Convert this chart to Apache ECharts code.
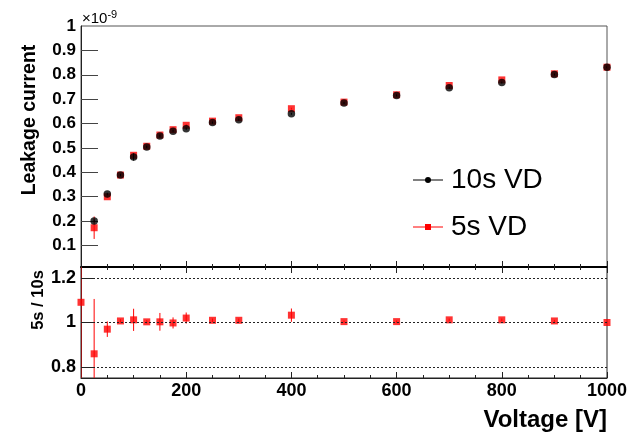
<!DOCTYPE html>
<html><head><meta charset="utf-8">
<script src="https://cdn.jsdelivr.net/npm/echarts@6/dist/echarts.min.js"></script>
<style>html,body{margin:0;padding:0;background:#fff}#c{width:642px;height:432px}</style>
</head><body><div id="c"></div>
<script>
// ---- data ----
const voltTop = [25,50,75,100,125,150,175,200,250,300,400,500,600,700,800,900,1000];
const leak10 = [0.201,0.311,0.389,0.463,0.504,0.549,0.569,0.579,0.604,0.616,0.640,0.684,0.715,0.747,0.768,0.801,0.831];
const leak10Err = [0.006,0.005,0.005,0.015,0.005,0.006,0.005,0.005,0.004,0.004,0.004,0.004,0.004,0.004,0.004,0.004,0.004];
const leak5 = [0.173,0.300,0.389,0.470,0.507,0.553,0.575,0.593,0.610,0.624,0.661,0.688,0.718,0.756,0.779,0.804,0.831];
const leak5Err = [0.046,0.005,0.005,0.008,0.005,0.006,0.005,0.005,0.004,0.004,0.004,0.004,0.004,0.004,0.004,0.004,0.004];
const voltRatio = [0,25,50,75,100,125,150,175,200,250,300,400,500,600,700,800,900,1000];
const ratio = [1.091,0.859,0.970,1.007,1.012,1.003,1.003,0.998,1.020,1.010,1.010,1.033,1.004,1.004,1.012,1.012,1.007,1.000];
const ratioErr = [0.6,0.247,0.035,0.008,0.05,0.008,0.04,0.025,0.025,0.008,0.008,0.03,0.005,0.005,0.006,0.006,0.005,0.005];
const xTicks = [0,200,400,600,800,1000];
const yTopTicks = [0.1,0.2,0.3,0.4,0.5,0.6,0.7,0.8,0.9];
const yTopLabels = [0.1,0.2,0.3,0.4,0.5,0.6,0.7,0.8,0.9,1];
const yRatioTicks = [0.8,1,1.2];
const seriesNames = ['10s VD','5s VD'];
const yTitleTop = 'Leakage current';
const yTitleBottom = '5s / 10s';
const xTitle = 'Voltage [V]';

const FONT = "'Liberation Sans', Arial, Helvetica, sans-serif";
const pts = (xs, ys) => xs.map((x, i) => [x, ys[i]]);
const errs = (xs, ys, es) => xs.map((x, i) => [x, ys[i] - es[i], ys[i] + es[i]]);

function errRender(color) {
  return function (params, api) {
    const p1 = api.coord([api.value(0), api.value(1)]);
    const p2 = api.coord([api.value(0), api.value(2)]);
    return { type: 'line', shape: { x1: p1[0], y1: p1[1], x2: p2[0], y2: p2[1] },
      style: { stroke: color, lineWidth: 1 } };
  };
}

const chart = echarts.init(document.getElementById('c'), null, { renderer: 'canvas' });
const axisLine = { show: true, lineStyle: { color: '#222', width: 1 } };
chart.setOption({
  animation: false,
  textStyle: { fontFamily: FONT },
  grid: [
    { left: 81, right: 35, top: 26, height: 241, show: true, borderColor: '#555', borderWidth: 1 },
    { left: 81, right: 35, top: 267, height: 111, show: true, borderColor: '#222', borderWidth: 1 }
  ],
  xAxis: [
    { gridIndex: 0, type: 'value', min: 0, max: 1000, interval: 200, position: 'bottom',
      axisLine, axisLabel: { show: false }, splitLine: { show: false },
      axisTick: { inside: true, length: 6, lineStyle: { color: '#222' } },
      minorTick: { show: true, splitNumber: 4, length: 3, lineStyle: { color: '#222' } } },
    { gridIndex: 1, type: 'value', min: 0, max: 1000, interval: 200, position: 'bottom',
      axisLine, splitLine: { show: false },
      axisLabel: { show: true, margin: 4, fontSize: 18, fontWeight: 'bold', color: '#000', fontFamily: FONT,
        customValues: xTicks, formatter: v => String(Math.round(v)) },
      axisTick: { inside: true, length: 6, lineStyle: { color: '#222' } },
      minorTick: { show: true, splitNumber: 4, length: 3, lineStyle: { color: '#222' } },
      name: xTitle, nameLocation: 'end', nameGap: 0,
      nameTextStyle: { fontSize: 24, fontWeight: 'bold', color: '#000', fontFamily: FONT,
        align: 'right', verticalAlign: 'top', padding: [30, 0, 0, 0] } },
    { gridIndex: 1, type: 'value', min: 0, max: 1000, interval: 200, position: 'top',
      axisLine: { show: true, lineStyle: { color: '#000', width: 2 } }, axisLabel: { show: false }, splitLine: { show: false },
      axisTick: { inside: true, length: 6, lineStyle: { color: '#222' } },
      minorTick: { show: true, splitNumber: 4, length: 3, lineStyle: { color: '#222' } } }
  ],
  yAxis: [
    { gridIndex: 0, type: 'value', min: 0.012, max: 1.0, axisLine, splitLine: { show: false },
      axisTick: { inside: true, length: 17, customValues: yTopTicks, lineStyle: { color: '#444' } },
      axisLabel: { customValues: yTopLabels, margin: 5, fontSize: 17, fontWeight: 'bold', color: '#000', fontFamily: FONT,
        formatter: v => (Math.abs(v - 1) < 1e-9 ? '1' : v.toFixed(1)) } },
    { gridIndex: 1, type: 'value', min: 0.75, max: 1.25, axisLine, splitLine: { show: false },
      axisTick: { inside: true, length: 12, customValues: yRatioTicks, lineStyle: { color: '#222' } },
      axisLabel: { customValues: yRatioTicks, margin: 5, fontSize: 18, fontWeight: 'bold', color: '#000', fontFamily: FONT,
        formatter: v => (Math.abs(v - 1) < 1e-9 ? '1' : v.toFixed(1)) } }
  ],
  series: [
    { type: 'custom', xAxisIndex: 1, yAxisIndex: 1, clip: true, renderItem: errRender('#ff0000'),
      data: errs(voltRatio, ratio, ratioErr), z: 2,
      markLine: { silent: true, symbol: 'none', label: { show: false },
        lineStyle: { type: [2, 2], color: '#222', width: 1 },
        data: yRatioTicks.map(v => ({ yAxis: v })) } },
    { type: 'scatter', xAxisIndex: 1, yAxisIndex: 1, symbol: 'rect', symbolSize: 7,
      itemStyle: { color: '#ff0000' }, data: pts(voltRatio, ratio), z: 3 },
    { type: 'custom', xAxisIndex: 0, yAxisIndex: 0, clip: true, renderItem: errRender('#ff0000'),
      data: errs(voltTop, leak5, leak5Err), z: 2 },
    { type: 'scatter', name: seriesNames[1], xAxisIndex: 0, yAxisIndex: 0, symbol: 'rect', symbolSize: 7,
      itemStyle: { color: '#ff0000' }, data: pts(voltTop, leak5), z: 3 },
    { type: 'custom', xAxisIndex: 0, yAxisIndex: 0, clip: true, renderItem: errRender('#000'),
      data: errs(voltTop, leak10, leak10Err), z: 4 },
    { type: 'scatter', name: seriesNames[0], xAxisIndex: 0, yAxisIndex: 0, symbol: 'circle', symbolSize: 7.5,
      itemStyle: { color: '#000' }, data: pts(voltTop, leak10), z: 5 }
  ],
  graphic: [
    { type: 'text', left: 82, top: 9, style: { rich: { a: { fontSize: 15, fontFamily: FONT, fill: '#000' },
        b: { fontSize: 11, fontFamily: FONT, fill: '#000', verticalAlign: 'top', padding: [0, 0, 8, 0] } },
        text: '{a|×10}{b|-9}', fill: '#000' } },
    { type: 'text', x: 30, y: 120, rotation: Math.PI / 2,
      style: { text: yTitleTop, fontSize: 19.5, fontWeight: 'bold', fontFamily: FONT, fill: '#000', align: 'center', verticalAlign: 'middle' } },
    { type: 'text', x: 38, y: 300, rotation: Math.PI / 2,
      style: { text: yTitleBottom, fontSize: 16.5, fontWeight: 'bold', fontFamily: FONT, fill: '#000', align: 'center', verticalAlign: 'middle' } },
    { type: 'line', shape: { x1: 413, y1: 180, x2: 443, y2: 180 }, style: { stroke: '#000', lineWidth: 1 } },
    { type: 'circle', shape: { cx: 428, cy: 180, r: 3 }, style: { fill: '#000' } },
    { type: 'text', x: 451, y: 180, style: { text: seriesNames[0], fontSize: 28, fontFamily: FONT, fill: '#000', verticalAlign: 'middle' } },
    { type: 'line', shape: { x1: 413, y1: 227, x2: 443, y2: 227 }, style: { stroke: '#ff0000', lineWidth: 1 } },
    { type: 'rect', shape: { x: 425, y: 224, width: 6, height: 6 }, style: { fill: '#ff0000' } },
    { type: 'text', x: 451, y: 227, style: { text: seriesNames[1], fontSize: 28, fontFamily: FONT, fill: '#000', verticalAlign: 'middle' } }
  ]
});
</script></body></html>
